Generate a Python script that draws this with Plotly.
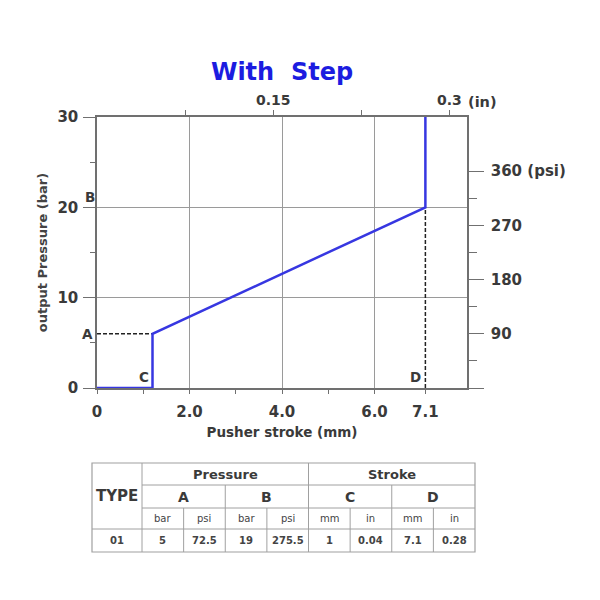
import plotly.graph_objects as go

# values
stroke_mm = [0, 1.2, 1.2, 7.1, 7.1]
pressure_bar = [0, 0, 6, 20, 30]

x_ticks = [0, 2, 4, 6, 7.1]
x_tick_text = ["0", "2.0", "4.0", "6.0", "7.1"]
x_grid = [2, 4, 6]
x_minor = [1, 3, 5]
y_ticks = [0, 10, 20, 30]
y_minor = [5, 15, 25]
psi_ticks = [0, 90, 180, 270, 360]
psi_text = ["", "90", "180", "270", "360 (psi)"]
psi_minor = [45, 135, 225, 315]
in_ticks = [0.075, 0.15, 0.225, 0.3]
in_text = ["", "0.15", "", "0.3"]

table_groups = ["Pressure", "Stroke"]
table_points = ["A", "B", "C", "D"]
table_units = ["bar", "psi", "bar", "psi", "mm", "in", "mm", "in"]
table_row = ["01", "5", "72.5", "19", "275.5", "1", "0.04", "7.1", "0.28"]

W = 600
OFF = 8  # page body margin pushes the figure by this much
L, R, T, B = 97 - OFF, 467 - OFF, 117 - OFF, 388 - OFF  # plot box in figure pixels


def px(x):
    return (x - OFF - L) / (R - L)


def py(y):
    return (B - (y - OFF)) / (B - T)


ink = "#3a3a3a"
axis_c = "#707070"
grid_c = "#9a9a9a"
blue = "rgb(55,55,225)"


def bold(size, color=ink):
    return dict(family="DejaVu Sans", weight="bold", size=size, color=color)


fig = go.Figure()

# dashed guide lines for A and D
fig.add_trace(go.Scatter(x=[0, stroke_mm[2]], y=[pressure_bar[2]] * 2, mode="lines",
                         line=dict(color="#222", width=1.5, dash="4px,2px"), hoverinfo="skip"))
fig.add_trace(go.Scatter(x=[stroke_mm[3]] * 2, y=[0, pressure_bar[3]], mode="lines",
                         line=dict(color="#222", width=1.5, dash="4px,2px"), hoverinfo="skip"))
# the curve
fig.add_trace(go.Scatter(x=stroke_mm, y=pressure_bar, mode="lines",
                         line=dict(color=blue, width=2.5), hoverinfo="skip"))
# empty traces so the overlay axes get drawn
fig.add_trace(go.Scatter(x=[], y=[], xaxis="x2", yaxis="y2"))
fig.add_trace(go.Scatter(x=[], y=[], xaxis="x3", yaxis="y"))

fig.update_layout(
    width=600, height=600,
    margin=dict(l=L, r=W - R, t=T, b=W - B),
    plot_bgcolor="white", paper_bgcolor="white",
    showlegend=False,
    title=dict(text="With\u00a0 Step", x=0.5, xref="paper", xanchor="center",
               y=1 - (72 - OFF) / W, yref="container", yanchor="middle",
               font=bold(24, "#1c1ce0")),
    xaxis=dict(range=[0, 8], tickmode="array", tickvals=x_ticks, ticktext=x_tick_text,
               ticks="outside", ticklen=4, tickcolor=axis_c, showgrid=False, zeroline=False,
               showline=True, linecolor=axis_c, linewidth=1.5,
               minor=dict(tickmode="array", tickvals=x_minor, ticks="outside", ticklen=4,
                          tickcolor=axis_c),
               tickfont=bold(15), ticklabelstandoff=5,
               title=dict(text="Pusher stroke (mm)", font=bold(13.5), standoff=8),
               automargin=False, fixedrange=True),
    xaxis2=dict(overlaying="x", side="top", anchor="y", range=[0, 8 / 25.4],
                tickmode="array", tickvals=in_ticks, ticktext=in_text,
                ticks="outside", ticklen=5, tickcolor=axis_c, showgrid=False, zeroline=False,
                showline=True, linecolor=axis_c, linewidth=1.5,
                tickfont=bold(14), automargin=False, fixedrange=True),
    xaxis3=dict(overlaying="x", anchor="y", range=[0, 8], tickmode="array", tickvals=x_grid,
                showgrid=True, gridcolor=grid_c, gridwidth=1.2, showticklabels=False,
                ticks="", showline=False, zeroline=False, automargin=False, fixedrange=True),
    yaxis=dict(range=[0, 30], tickmode="array", tickvals=y_ticks,
               ticks="outside", ticklen=12, tickcolor=axis_c,
               showgrid=True, gridcolor=grid_c, gridwidth=1.2, zeroline=False,
               showline=True, linecolor=axis_c, linewidth=1.5,
               minor=dict(tickmode="array", tickvals=y_minor, ticks="outside", ticklen=5,
                          tickcolor=axis_c),
               tickfont=bold(15), ticklabelstandoff=2,
               title=dict(text="output Pressure (bar)", font=bold(13, "#444"), standoff=7),
               automargin=False, fixedrange=True),
    yaxis2=dict(overlaying="y", side="right", anchor="x", range=[0, 450],
                tickmode="array", tickvals=psi_ticks, ticktext=psi_text,
                ticks="outside", ticklen=15, tickcolor=axis_c, showgrid=False, zeroline=False,
                showline=True, linecolor=axis_c, linewidth=1.5,
                minor=dict(tickmode="array", tickvals=psi_minor, ticks="outside", ticklen=8,
                           tickcolor=axis_c),
                tickfont=bold(15), ticklabelstandoff=4, automargin=False, fixedrange=True),
)

# point labels A, B, C, D next to the curve
marks = [
    (table_points[0], 0, pressure_bar[2], "right", "middle", -2, 0),
    (table_points[1], 0, pressure_bar[3], "right", "bottom", 0, 0),
    (table_points[2], stroke_mm[1], 0, "right", "bottom", -2, 1),
    (table_points[3], stroke_mm[3], 0, "right", "bottom", -2, 1),
]
for txt, x, y, xa, ya, xs, ys in marks:
    fig.add_annotation(text=txt, x=x, y=y, xref="x", yref="y", xanchor=xa, yanchor=ya,
                       xshift=xs, yshift=ys, showarrow=False, font=bold(13.5))

# unit suffix of the top axis
fig.add_annotation(text="(in)", x=in_ticks[-1], y=1, xref="x2", yref="paper",
                   xanchor="left", yanchor="bottom", xshift=17, yshift=5,
                   showarrow=False, font=bold(14.5))

# ---- table under the chart (page pixel positions) ----
tx0, tx1, tx2 = 92, 142, 475
cw = (tx2 - tx1) / 8
rows = [463, 485, 508, 529, 552]
line_c = "#a0a0a0"


def seg(x0, y0, x1, y1):
    fig.add_shape(type="line", xref="paper", yref="paper",
                  x0=px(x0), y0=py(y0), x1=px(x1), y1=py(y1),
                  line=dict(color=line_c, width=1))


fig.add_shape(type="rect", xref="paper", yref="paper",
              x0=px(tx0), y0=py(rows[0]), x1=px(tx2), y1=py(rows[4]),
              line=dict(color=line_c, width=1.2))
seg(tx1, rows[0], tx1, rows[4])
seg(tx1 + 4 * cw, rows[0], tx1 + 4 * cw, rows[4])
for k in (2, 6):
    seg(tx1 + k * cw, rows[1], tx1 + k * cw, rows[4])
for k in (1, 3, 5, 7):
    seg(tx1 + k * cw, rows[2], tx1 + k * cw, rows[4])
seg(tx1, rows[1], tx2, rows[1])
seg(tx1, rows[2], tx2, rows[2])
seg(tx0, rows[3], tx2, rows[3])


def cell(text, cx, cy, font):
    fig.add_annotation(text=text, x=px(cx), y=py(cy), xref="paper", yref="paper",
                       xanchor="center", yanchor="middle", showarrow=False, font=font)


cell("TYPE", (tx0 + tx1) / 2, (rows[0] + rows[3]) / 2, bold(15))
for i, g in enumerate(table_groups):
    cell(g, tx1 + cw * (4 * i + 2), (rows[0] + rows[1]) / 2, bold(13))
for j, p in enumerate(table_points):
    cell(p, tx1 + cw * (2 * j + 1), (rows[1] + rows[2]) / 2, bold(14))
for k, u in enumerate(table_units):
    cell(u, tx1 + cw * (k + 0.5), (rows[2] + rows[3]) / 2,
         dict(family="DejaVu Sans", size=10, color="#444"))
cell(table_row[0], (tx0 + tx1) / 2, (rows[3] + rows[4]) / 2, bold(10, "#444"))
for k, v in enumerate(table_row[1:]):
    cell(v, tx1 + cw * (k + 0.5), (rows[3] + rows[4]) / 2, bold(10, "#444"))

fig.write_html("out.html")
